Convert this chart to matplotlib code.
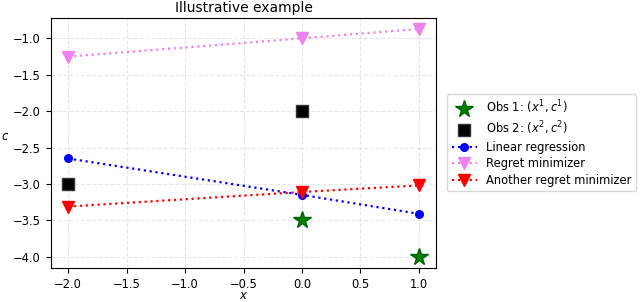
import matplotlib
matplotlib.use("Agg")
from matplotlib import pyplot as plt

plt.rcParams["font.size"] = 8.3

# observations
obs1_x = [0.0, 1.0]
obs1_c = [-3.5, -4.0]
obs2_x = [-2.0, 0.0]
obs2_c = [-3.0, -2.0]

# fitted lines
line_x = [-2.0, 0.0, 1.0]
linreg_c = [-2.65, -3.15, -3.41]
regret_c = [-1.25, -1.0, -0.87]
another_c = [-3.31, -3.11, -3.02]

fig = plt.figure(figsize=(6.4, 3.02), dpi=100)
ax = fig.add_axes([0.079, 0.112, 0.603, 0.83])

ax.plot(obs1_x, obs1_c, linestyle="none", marker="*", markersize=13,
        color="green", markeredgecolor="darkgreen", label="Obs 1: $(x^1, c^1)$")
ax.plot(obs2_x, obs2_c, linestyle="none", marker="s", markersize=8.5,
        color="black", markeredgecolor="#333333", label="Obs 2: $(x^2, c^2)$")
ax.plot(line_x, linreg_c, linestyle=":", linewidth=1.6, marker="o", markersize=5.5,
        color="blue", label="Linear regression")
ax.plot(line_x, regret_c, linestyle=":", linewidth=1.6, marker="v", markersize=8,
        color="violet", label="Regret minimizer")
ax.plot(line_x, another_c, linestyle=":", linewidth=1.6, marker="v", markersize=8,
        color="red", label="Another regret minimizer")

ax.grid(True, linestyle="--", alpha=0.3)
ax.set_title("Illustrative example", pad=4)
ax.set_xlabel("$x$")
ax.xaxis.set_label_coords(0.5, -0.085)
ax.set_ylabel("$c$", rotation=0, va="center", ha="left")
ax.yaxis.set_label_coords(-0.128, 0.524)
ax.legend(loc="center left", bbox_to_anchor=(1.027, 0.5), borderaxespad=0,
          handlelength=2.2, labelspacing=0.3, borderpad=0.4)

plt.savefig("out.png", dpi=100)
